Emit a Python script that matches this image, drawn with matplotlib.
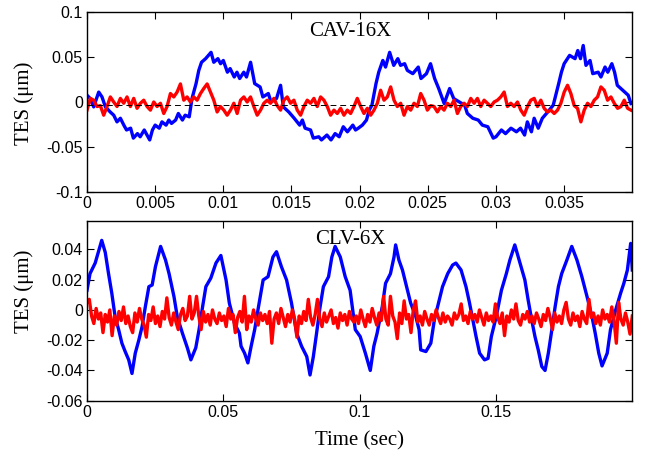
import numpy as np
import matplotlib
matplotlib.use("Agg")
import matplotlib.pyplot as plt

# ---------------- data ----------------
# Top panel (CAV-16X): blue TES trace, read as (time, value) pairs
cav_blue_t = [0.0000, 0.00024, 0.00049, 0.00086, 0.0011, 0.00135, 0.0017, 0.00196, 0.0022, 0.00245,
              0.0027, 0.0029, 0.0032, 0.0034, 0.0037, 0.0039, 0.0042, 0.0044, 0.0046, 0.0048,
              0.0050, 0.0053, 0.0055, 0.0058, 0.0060, 0.0062, 0.0065, 0.0067, 0.0070, 0.0072,
              0.0075, 0.0077, 0.0080, 0.0082, 0.0084, 0.0087, 0.0091, 0.0093, 0.0096, 0.0098,
              0.0100, 0.0103, 0.0105, 0.0108, 0.0110, 0.0112, 0.0115, 0.0117, 0.0120, 0.0123,
              0.0127, 0.0129, 0.0133, 0.0135, 0.0139, 0.0142, 0.0144, 0.0148, 0.0152, 0.0156,
              0.0158, 0.0160, 0.0164, 0.0166, 0.0170, 0.0172, 0.0176, 0.0179, 0.0182, 0.0185,
              0.0188, 0.0191, 0.0195, 0.0197, 0.0199, 0.0202, 0.0205, 0.0207, 0.0209, 0.0212,
              0.0214, 0.0217, 0.0219, 0.0222, 0.0225, 0.0228, 0.0230, 0.0233, 0.0235, 0.0239,
              0.0243, 0.0245, 0.0249, 0.0252, 0.0255, 0.0258, 0.0262, 0.0266, 0.0269, 0.0273,
              0.0277, 0.0279, 0.0283, 0.0287, 0.0290, 0.0294, 0.0298, 0.0300, 0.0304, 0.0307,
              0.0311, 0.0315, 0.0318, 0.0321, 0.0323, 0.0326, 0.0328, 0.0331, 0.0334, 0.0338,
              0.0342, 0.0346, 0.0348, 0.0350, 0.0354, 0.0358, 0.0360, 0.0362, 0.0364, 0.0366,
              0.0369, 0.0371, 0.0375, 0.0377, 0.0380, 0.0382, 0.0385, 0.0387, 0.0389, 0.0393,
              0.0397, 0.0399]
cav_blue_v = [0.0075, 0.0038, -0.0054, 0.011, 0.0056, -0.0054, -0.011, -0.0146, -0.022, -0.018,
              -0.0256, -0.031, -0.029, -0.040, -0.035, -0.0385, -0.031, -0.0366, -0.042, -0.031,
              -0.0256, -0.029, -0.022, -0.0256, -0.020, -0.0237, -0.020, -0.0127, -0.020, -0.0146,
              -0.0164, 0.0038, 0.0204, 0.035, 0.044, 0.048, 0.055, 0.044, 0.048, 0.0424,
              0.046, 0.033, 0.037, 0.0277, 0.033, 0.026, 0.033, 0.0277, 0.044, 0.0204,
              0.0166, 0.0056, 0.0094, 0.0001, 0.0038, 0.0185, -0.0054, -0.011, -0.018, -0.0256,
              -0.020, -0.029, -0.031, -0.040, -0.0385, -0.042, -0.0366, -0.042, -0.035, -0.0385,
              -0.0274, -0.033, -0.0256, -0.031, -0.029, -0.0256, -0.020, -0.009, -0.0035, 0.0204,
              0.033, 0.046, 0.0387, 0.055, 0.0406, 0.048, 0.0406, 0.0424, 0.035, 0.0314,
              0.0387, 0.026, 0.0314, 0.0424, 0.026, 0.0149, -0.0017, 0.0149, 0.0038, 0.0001,
              -0.0035, -0.0127, -0.018, -0.020, -0.0256, -0.0274, -0.040, -0.0385, -0.031, -0.035,
              -0.029, -0.033, -0.029, -0.0366, -0.022, -0.033, -0.018, -0.029, -0.018, -0.011,
              -0.0035, 0.0204, 0.033, 0.0424, 0.0516, 0.048, 0.057, 0.048, 0.0626, 0.0406,
              0.046, 0.0314, 0.033, 0.0277, 0.0387, 0.033, 0.0424, 0.033, 0.0185, 0.013,
              0.0075, -0.0017]

# Top panel red trace: evenly sampled values from t=0 to t=0.0399
cav_red_t_end = 0.0399
cav_red_v = [-0.009, 0.004, 0.002, -0.005, -0.004, -0.0146, -0.005, 0.0056, 0.000, -0.005,
             0.004, -0.0014, 0.0056, -0.005, 0.004, -0.007, -0.0014, 0.002, -0.005, -0.009,
             0.000, -0.005, -0.0014, -0.0127, -0.005, 0.0094, 0.0056, 0.011, 0.020, 0.002,
             0.0056, 0.000, 0.0056, 0.002, 0.0094, 0.015, 0.020, 0.011, 0.002, -0.011,
             -0.005, -0.009, -0.0146, -0.009, -0.0014, -0.0127, 0.002, 0.0056, 0.000, 0.0056,
             -0.005, -0.0146, -0.009, -0.0014, 0.002, -0.0014, 0.004, -0.004, -0.009, 0.002,
             0.0056, -0.0014, 0.002, -0.009, -0.0146, -0.005, 0.002, -0.0014, 0.004, -0.005,
             0.0056, 0.002, -0.005, -0.0146, -0.009, -0.0127, -0.007, -0.0146, -0.009, -0.0127,
             -0.005, 0.004,
             -0.005, -0.0127, -0.007, -0.0146, -0.009, -0.0014, 0.013, 0.002, 0.0056, 0.0167,
             0.002, -0.005, -0.0014, -0.0146, -0.005, -0.009, -0.0014, -0.005, 0.0094, 0.002,
             -0.009, -0.004, -0.005, -0.011, -0.005, -0.009, -0.0014, -0.005, 0.002, -0.0127,
             -0.005, -0.0014, -0.005, 0.004, -0.0014, 0.004, -0.005, 0.002, -0.0014, -0.005,
             0.000, 0.002, 0.0056, 0.011, -0.005, -0.0014, -0.005, 0.000, -0.009, -0.0146,
             -0.005, 0.002, 0.004, -0.005, 0.002, -0.007, -0.011, -0.009, -0.0127, -0.009,
             -0.0014, 0.011, 0.0185, 0.0094, -0.004, -0.007, -0.022, -0.009, -0.0014, -0.005,
             0.002, 0.0056, 0.0167, 0.013, 0.002, 0.0056, -0.0014, -0.007, -0.005, 0.002,
             -0.007, -0.009]
cav_ref_level = -0.003

# Bottom panel (CLV-6X): blue TES trace, (time, value) pairs
clv_blue_t = [0.0000, 0.0011, 0.0030, 0.0042, 0.0054, 0.0067, 0.0079, 0.0091, 0.0103, 0.0116,
              0.0128, 0.0140, 0.0153, 0.0165, 0.0177, 0.0190, 0.0202, 0.0214, 0.0227, 0.0239,
              0.0251, 0.0270, 0.0288, 0.0301, 0.0319, 0.0331, 0.0350, 0.0368, 0.0381, 0.0399,
              0.0411, 0.0424, 0.0436, 0.0454, 0.0473, 0.0491, 0.0510, 0.0522, 0.0541, 0.0559,
              0.0565, 0.0578, 0.0590, 0.0602, 0.0615, 0.0627, 0.0646, 0.0664, 0.0682, 0.0695,
              0.0713, 0.0732, 0.0750, 0.0769, 0.0787, 0.0806, 0.0818, 0.0830, 0.0842, 0.0855,
              0.0867, 0.0886, 0.0898, 0.0910, 0.0929, 0.0947, 0.0965, 0.0984, 0.1002, 0.1021,
              0.1039, 0.1052, 0.1064, 0.1083, 0.1095, 0.1113, 0.1126, 0.1132, 0.1144, 0.1157,
              0.1169, 0.1187, 0.1206, 0.1218, 0.1224, 0.1243, 0.1261, 0.1274, 0.1292, 0.1304,
              0.1323, 0.1341, 0.1353, 0.1372, 0.1390, 0.1403, 0.1415, 0.1427, 0.1440, 0.1458,
              0.1471, 0.1483, 0.1501, 0.1520, 0.1538, 0.1551, 0.1569, 0.1588, 0.1606, 0.1618,
              0.1631, 0.1643, 0.1655, 0.1668, 0.1680, 0.1692, 0.1705, 0.1717, 0.1729, 0.1741,
              0.1760, 0.1778, 0.1797, 0.1815, 0.1834, 0.1852, 0.1864, 0.1877, 0.1889, 0.1908,
              0.1920, 0.1939, 0.1957, 0.1969, 0.1982, 0.1994, 0.2000]
clv_blue_v = [0.013, 0.024, 0.031, 0.0385, 0.046, 0.038, 0.024, 0.011, -0.0044, -0.013,
              -0.022, -0.0275, -0.033, -0.042, -0.0286, -0.020, -0.011, 0.0022, 0.0154, 0.0165,
              0.0286, 0.042, 0.033, 0.024, 0.0088, -0.0044, -0.0154, -0.025, -0.033, -0.025,
              -0.013, 0.0022, 0.0154, 0.021, 0.031, 0.036, 0.0198, 0.0046, -0.0088, -0.0154,
              -0.024, -0.0286, -0.035, -0.024, -0.013, 0.000, 0.0198, 0.022, 0.035, 0.0385,
              0.0286, 0.0198, 0.0046, -0.0154, -0.024, -0.0308, -0.043, -0.031, -0.0154, 0.0022,
              0.0154, 0.022, 0.035, 0.042, 0.035, 0.022, 0.013, -0.013, -0.0176, -0.0286,
              -0.040, -0.024, -0.0154, 0.0022, 0.0176, 0.024, 0.035, 0.043, 0.033, 0.0264,
              0.0176, 0.0046, -0.0044, -0.013, -0.0264, -0.0275, -0.022, -0.0066, 0.0066, 0.0154,
              0.024, 0.0297, 0.031, 0.0264, 0.0154, 0.0046, -0.0066, -0.0176, -0.0286, -0.033,
              -0.032, -0.0176, -0.0044, 0.013, 0.024, 0.033, 0.043, 0.031, 0.0198, 0.0066,
              -0.0066, -0.0176, -0.0264, -0.0374, -0.040, -0.0286, -0.013, 0.0022, 0.0154, 0.024,
              0.033, 0.042, 0.033, 0.022, 0.0088, -0.0044, -0.0154, -0.0286, -0.037, -0.0286,
              -0.013, 0.000, 0.011, 0.0176, 0.0264, 0.044, 0.0264]

# Bottom panel red trace: evenly sampled values from t=0 to t=0.2
clv_red_t_end = 0.2
clv_red_v = [0.005, 0.007, -0.004, -0.009, 0.001, -0.006, -0.002, -0.015, -0.003, -0.008,
             0.000, -0.017, -0.004, -0.010, -0.001, -0.007, 0.002, -0.009, -0.004, -0.011,
             -0.015, -0.002, -0.008, 0.001, -0.006, -0.010, -0.018, -0.003, -0.007, 0.002,
             -0.009, -0.004, -0.011, -0.001, -0.006, 0.008, -0.005, -0.010, -0.002, -0.008,
             -0.013, -0.003, 0.001, -0.007, -0.004, 0.009, -0.006, -0.002, 0.009, -0.004,
             -0.013, -0.001, -0.008, -0.003, -0.010, 0.000, -0.006, -0.009, -0.002, -0.007,
             -0.004, -0.011, 0.001, -0.006, -0.003, -0.015, -0.005, -0.001, -0.008, 0.009,
             -0.013, -0.004, -0.008, 0.000, -0.006, -0.010, -0.002, -0.007, -0.003, -0.009,
             -0.001, -0.022, -0.006, -0.002, -0.009, 0.001, -0.005, -0.011, -0.003, -0.008,
             0.000, -0.006, -0.018, -0.004, -0.009, -0.001, -0.007, 0.007, -0.005, -0.010,
             -0.003, 0.007, -0.006, -0.011, -0.002, -0.008, -0.004, 0.000, -0.009, -0.005,
             -0.012, -0.002, -0.007, -0.003, -0.010, -0.001, -0.006, -0.008, -0.004, -0.009,
             0.000, -0.006, -0.011, -0.003, -0.008, 0.001, -0.005, -0.010, -0.002, -0.007,
             0.009, -0.006, -0.010, 0.009, -0.004, -0.008, -0.019, -0.002, -0.009, 0.006,
             -0.006, -0.003, -0.015, 0.000, 0.006, -0.008, -0.004, -0.010, -0.001, -0.006,
             -0.010, -0.003, -0.007, 0.000, -0.005, -0.009, -0.002, -0.008, -0.004, -0.006,
             -0.010, -0.002, -0.006, -0.003, 0.004, -0.007, -0.004, -0.009, -0.001, -0.006,
             -0.003, -0.008, 0.000, -0.005, -0.010, -0.002, -0.007, -0.004, -0.008, 0.004,
             -0.005, -0.009, -0.002, -0.017, -0.004, -0.008, 0.000, -0.006, 0.004, -0.007,
             -0.010, -0.003, -0.006, -0.001, -0.008, -0.004, -0.009, -0.002, -0.006, -0.011,
             -0.003, -0.007, 0.001, -0.005, -0.013, -0.002, -0.008, -0.004, -0.009, 0.000,
             0.005, -0.006, -0.010, -0.002, -0.007, -0.004, -0.011, -0.001, -0.006, -0.009,
             0.007, -0.005, -0.002, -0.009, -0.004, -0.010, 0.000, -0.006, -0.003, -0.008,
             0.002, -0.007, -0.022, 0.005, -0.006, -0.010, -0.002, -0.008, -0.016, -0.004]

top_title = "CAV-16X"
bottom_title = "CLV-6X"
ylabel_text = "TES (\u03bcm)"
xlabel_text = "Time (sec)"
top_xticks = [0, 0.005, 0.01, 0.015, 0.02, 0.025, 0.03, 0.035]
top_xticklabels = ["0", "0.005", "0.01", "0.015", "0.02", "0.025", "0.03", "0.035"]
top_yticks = [-0.1, -0.05, 0, 0.05, 0.1]
top_yticklabels = ["-0.1", "-0.05", "0", "0.05", "0.1"]
bot_xticks = [0, 0.05, 0.1, 0.15]
bot_xticklabels = ["0", "0.05", "0.1", "0.15"]
bot_yticks = [-0.06, -0.04, -0.02, 0, 0.02, 0.04]
bot_yticklabels = ["-0.06", "-0.04", "-0.02", "0", "0.02", "0.04"]

# ---------------- figure ----------------
W, H = 651, 455
fig = plt.figure(figsize=(W / 100, H / 100), dpi=100)
serif = ["Liberation Serif", "DejaVu Serif"]
sans = ["Liberation Sans", "DejaVu Sans"]

L, R = 87, 632.3
ax1 = fig.add_axes([L / W, 1 - 192.3 / H, (R - L) / W, (192.3 - 11.7) / H])
ax2 = fig.add_axes([L / W, 1 - 400.7 / H, (R - L) / W, (400.7 - 220.7) / H])

lw = 2.4
cav_red_t = np.linspace(0, cav_red_t_end, len(cav_red_v))
ax1.plot(cav_blue_t, cav_blue_v, color=(0, 0, 1), lw=lw, solid_joinstyle="round")
ax1.plot(cav_red_t, cav_red_v, color=(1, 0, 0), lw=lw, solid_joinstyle="round")
ax1.axhline(cav_ref_level, color="black", lw=0.7, ls=(0, (6, 4)), zorder=5)

clv_red_t = np.linspace(0, clv_red_t_end, len(clv_red_v))
ax2.plot(clv_blue_t, clv_blue_v, color=(0, 0, 1), lw=lw, solid_joinstyle="round")
ax2.plot(clv_red_t, clv_red_v, color=(1, 0, 0), lw=lw, solid_joinstyle="round")

ax1.set_xlim(0, 0.04)
ax1.set_ylim(-0.1, 0.1)
ax2.set_xlim(0, 0.2)
ax2.set_ylim(-0.06, 0.059)

for ax, xt, xl, yt, yl in [(ax1, top_xticks, top_xticklabels, top_yticks, top_yticklabels),
                           (ax2, bot_xticks, bot_xticklabels, bot_yticks, bot_yticklabels)]:
    ax.set_xticks(xt)
    ax.set_xticklabels(xl, fontfamily=sans, fontsize=11.5)
    ax.set_yticks(yt)
    ax.set_yticklabels(yl, fontfamily=sans, fontsize=11.5)
    ax.tick_params(direction="in", length=5, width=0.8, top=True, right=True)
    ax.tick_params(axis="x", pad=3)
    ax.tick_params(axis="y", pad=3)
    for s in ax.spines.values():
        s.set_linewidth(1.0)

ax1.text((350 - L) / (R - L), (192.3 - 36) / 180.6, top_title, transform=ax1.transAxes,
         ha="center", va="baseline", fontfamily=serif, fontsize=15)
ax2.text((350 - L) / (R - L), (400.7 - 244) / 180.0, bottom_title, transform=ax2.transAxes,
         ha="center", va="baseline", fontfamily=serif, fontsize=15)

fig.text(24.5 / W, 1 - 103 / H, ylabel_text, rotation=90, ha="center", va="center",
         fontfamily=serif, fontsize=15)
fig.text(24.5 / W, 1 - 291 / H, ylabel_text, rotation=90, ha="center", va="center",
         fontfamily=serif, fontsize=15)
fig.text(359.6 / W, 1 - 445.7 / H, xlabel_text, ha="center", va="baseline",
         fontfamily=serif, fontsize=15)

fig.savefig("out.png", dpi=100)
